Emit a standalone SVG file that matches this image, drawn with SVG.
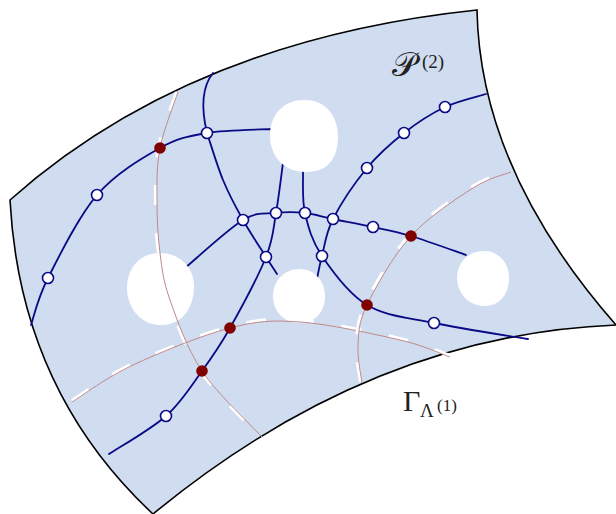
<svg xmlns="http://www.w3.org/2000/svg" width="616" height="514" viewBox="0 0 616 514">
<style>
.edge{fill:none;stroke:#0a0a85;stroke-width:1.8;stroke-linecap:round}
.hole{fill:#ffffff;stroke:none}
.dash{fill:none;stroke:#ffffff;stroke-width:3.2;stroke-dasharray:20 28}
.rl{fill:none;stroke:#c08888;stroke-width:1}
.node{fill:#ffffff;stroke:#0a0a85;stroke-width:1.6}
.rnode{fill:#800000;stroke:none}
.lbl{font-family:"Liberation Serif","DejaVu Serif",serif;fill:#222222}
</style>
<rect width="616" height="514" fill="#ffffff"/>
<g id="region">
<path d="M10,200 Q190,40 477,10 Q480,170 616,325 Q370,335 153,514 Q20,390 10,200 Z" fill="#d0ddf1" stroke="#000000" stroke-width="1.6" stroke-linejoin="miter"/>
</g>
<g id="connectors">
<path class="edge" d="M31,325 C33.8,317.2 37,299.7 48,278 C59,256.3 78.3,216.7 97,195 C115.7,173.3 141.7,158.3 160,148 C178.3,137.7 189,136.2 207,133 C225,129.8 257.8,129.7 274,129"/>
<path class="edge" d="M207,133 C202,112 201,88 213,73"/>
<path class="edge" d="M207,133 C209.7,140.8 217,165.5 223,180 C229,194.5 235.8,207.2 243,220 C250.2,232.8 260.3,248 266,257 C271.7,266 275.2,271.2 277,274"/>
<path class="edge" d="M180,273 L185,268 C194.7,260 227.8,229.2 243,220 C258.2,210.8 265.7,214.2 276,213 C286.3,211.8 295.5,212 305,213 C314.5,214 321.7,216.7 333,219 C344.3,221.3 360,224.2 373,227 C386,229.8 395.5,231.3 411,236 C426.5,240.7 456.8,251.8 466,255"/>
<path class="edge" d="M284,158 L283,163 C281.8,171.3 278.8,197.3 276,213 C273.2,228.7 273.7,237.8 266,257 C258.3,276.2 240.7,309 230,328 C219.3,347 212.7,356.3 202,371 C191.3,385.7 181.5,402.2 166,416 C150.5,429.8 118.5,447.7 109,454"/>
<path class="edge" d="M303,168 L303,173 C303.3,179.7 301.8,199.2 305,213 C308.2,226.8 311.7,240.7 322,256 C332.3,271.3 348.3,293.8 367,305 C385.7,316.2 407.2,317.3 434,323 C460.8,328.7 512.3,336.3 528,339"/>
<path class="edge" d="M317,279 C317.8,275.2 319.3,266 322,256 C324.7,246 325.5,233.7 333,219 C340.5,204.3 355.2,182.3 367,168 C378.8,153.7 391,143.2 404,133 C417,122.8 431.3,113.5 445,107 C458.7,100.5 479.2,96.2 486,94"/>
</g>
<g id="holes">
<path class="hole" d="M304,100 C325,99 338,116 338,136 C338,156 330,172 306,172 C284,172 270,156 270,136 C270,113 285,100 304,100 Z"/>
<path class="hole" d="M160,253 C180,253 194,268 194,286 C194,308 182,325 161,325 C140,325 127,307 127,288 C127,268 140,253 160,253 Z"/>
<path class="hole" d="M300,269 C314,269 325,281 325,296 C325,313 314,323 299,323 C284,323 273,311 273,296 C273,280 285,269 300,269 Z"/>
<path class="hole" d="M484,251 C499,251 509,263 509,278 C509,296 498,306 484,306 C468,306 457,292 457,278 C457,262 469,251 484,251 Z"/>
</g>
<g id="cuts">
<path class="dash" transform="translate(-1.5,0)" d="M178,92 C175,101.3 163.5,130 160,148 C156.5,166 157,182.5 157,200 C157,217.5 157.8,236.3 160,253 C162.2,269.7 163,280.3 170,300 C177,319.7 186.7,348.2 202,371 C217.3,393.8 252,426 262,437"/>
<path class="rl" d="M178,92 C175,101.3 163.5,130 160,148 C156.5,166 157,182.5 157,200 C157,217.5 157.8,236.3 160,253 C162.2,269.7 163,280.3 170,300 C177,319.7 186.7,348.2 202,371 C217.3,393.8 252,426 262,437"/>
<path class="dash" transform="translate(0,-1.5)" d="M72,402 C82.2,395.8 106.7,377.3 133,365 C159.3,352.7 202.2,335.2 230,328 C257.8,320.8 271.7,320 300,322 C328.3,324 375,334.2 400,340 C425,345.8 441.7,354.2 450,357"/>
<path class="rl" d="M72,402 C82.2,395.8 106.7,377.3 133,365 C159.3,352.7 202.2,335.2 230,328 C257.8,320.8 271.7,320 300,322 C328.3,324 375,334.2 400,340 C425,345.8 441.7,354.2 450,357"/>
<path class="dash" transform="translate(-1.5,-1)" d="M362,383 C361.3,376.7 357.2,358 358,345 C358.8,332 358.2,323.2 367,305 C375.8,286.8 393.3,255.5 411,236 C428.7,216.5 456.3,198.7 473,188 C489.7,177.3 504.7,174.7 511,172"/>
<path class="rl" d="M362,383 C361.3,376.7 357.2,358 358,345 C358.8,332 358.2,323.2 367,305 C375.8,286.8 393.3,255.5 411,236 C428.7,216.5 456.3,198.7 473,188 C489.7,177.3 504.7,174.7 511,172"/>
</g>
<g id="n1"><circle class="node" cx="48" cy="278" r="5.5"/></g>
<g id="n2"><circle class="node" cx="97" cy="195" r="5.5"/></g>
<g id="n3"><circle class="node" cx="207" cy="133" r="5.5"/></g>
<g id="n4"><circle class="node" cx="243" cy="220" r="5.5"/></g>
<g id="n5"><circle class="node" cx="276" cy="213" r="5.5"/></g>
<g id="n6"><circle class="node" cx="305" cy="213" r="5.5"/></g>
<g id="n7"><circle class="node" cx="333" cy="219" r="5.5"/></g>
<g id="n8"><circle class="node" cx="373" cy="227" r="5.5"/></g>
<g id="n9"><circle class="node" cx="266" cy="257" r="5.5"/></g>
<g id="n10"><circle class="node" cx="322" cy="256" r="5.5"/></g>
<g id="n11"><circle class="node" cx="367" cy="168" r="5.5"/></g>
<g id="n12"><circle class="node" cx="404" cy="133" r="5.5"/></g>
<g id="n13"><circle class="node" cx="445" cy="107" r="5.5"/></g>
<g id="n14"><circle class="node" cx="434" cy="323" r="5.5"/></g>
<g id="n15"><circle class="node" cx="166" cy="416" r="5.5"/></g>
<g id="r1"><circle class="rnode" cx="160" cy="148" r="5.8"/></g>
<g id="r2"><circle class="rnode" cx="411" cy="236" r="5.8"/></g>
<g id="r3"><circle class="rnode" cx="367" cy="305" r="5.8"/></g>
<g id="r4"><circle class="rnode" cx="230" cy="328" r="5.8"/></g>
<g id="r5"><circle class="rnode" cx="202" cy="371" r="5.8"/></g>
<g id="label-p">
<text class="lbl" x="392" y="76" font-size="34">𝒫</text>
<text class="lbl" x="422" y="68" font-size="19">(2)</text>
</g>
<g id="label-gamma">
<text class="lbl" x="403" y="411" font-size="30">Γ</text>
<text class="lbl" x="420" y="417" font-size="19">Λ</text>
<text class="lbl" x="437" y="411" font-size="17">(1)</text>
</g>
</svg>
